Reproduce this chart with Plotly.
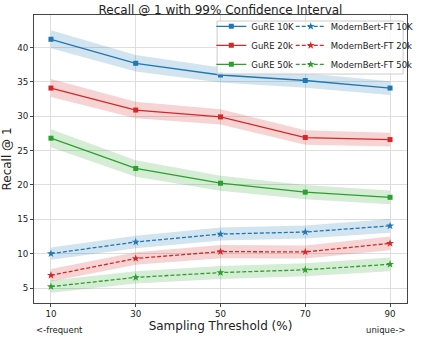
import plotly.graph_objects as go

thresholds = [10, 30, 50, 70, 90]
series_names = ["GuRE 10K", "GuRE 20k", "GuRE 50k",
                "ModernBert-FT 10K", "ModernBert-FT 20k", "ModernBert-FT 50k"]
gure_10k = [41.2, 37.7, 36.0, 35.2, 34.1]
gure_20k = [34.1, 30.9, 29.9, 26.9, 26.6]
gure_50k = [26.8, 22.4, 20.25, 18.95, 18.2]
mb_10k = [10.0, 11.7, 12.85, 13.15, 14.05]
mb_20k = [6.85, 9.3, 10.3, 10.25, 11.5]
mb_50k = [5.2, 6.55, 7.25, 7.65, 8.45]
gure_ci = [1.3, 1.2, 1.1, 1.05, 1.0]
mb_ci = [0.9, 0.9, 0.95, 0.95, 1.0]

colors = ["#1f77b4", "#d62728", "#2ca02c"]
bands = ["rgba(31,119,180,0.2)", "rgba(214,39,40,0.2)", "rgba(44,160,44,0.2)"]

all_values = [gure_10k, gure_20k, gure_50k, mb_10k, mb_20k, mb_50k]
FONT = "DejaVu Sans"
TXT = "#222"

fig = go.Figure()
for i, (name, vals) in enumerate(zip(series_names, all_values)):
    is_gure = i < 3
    c = colors[i % 3]
    ci = gure_ci if is_gure else mb_ci
    upper = [v + e for v, e in zip(vals, ci)]
    lower = [v - e for v, e in zip(vals, ci)]
    fig.add_trace(go.Scatter(x=thresholds + thresholds[::-1], y=upper + lower[::-1],
                             fill="toself", fillcolor=bands[i % 3], line=dict(width=0),
                             mode="lines", showlegend=False, hoverinfo="skip"))
    fig.add_trace(go.Scatter(
        x=thresholds, y=vals, name=name, mode="lines+markers",
        line=dict(color=c, width=1.3, dash="solid" if is_gure else "4px,2px"),
        marker=dict(symbol="square" if is_gure else "star", size=5 if is_gure else 6, color=c),
        legend="legend" if is_gure else "legend2"))

# legend frame
fig.add_shape(type="rect", xref="paper", yref="paper", x0=(223 - 34) / 385, x1=(415 - 34) / 385,
              y0=0.795, y1=(303 - 21) / 288,
              fillcolor="rgba(255,255,255,0.8)", line=dict(color="#cccccc", width=1), layer="above")

fig.add_annotation(text="&lt;-frequent", xref="paper", yref="paper", x=0, y=-0.095,
                   xanchor="left", yanchor="middle", showarrow=False,
                   font=dict(family=FONT, size=8.5, color=TXT))
fig.add_annotation(text="unique-&gt;", xref="paper", yref="paper", x=1, y=-0.095,
                   xanchor="right", yanchor="middle", showarrow=False,
                   font=dict(family=FONT, size=8.5, color=TXT))

axis_common = dict(showgrid=True, gridcolor="#dedede", gridwidth=1, showline=True,
                   linecolor="#444", linewidth=1, mirror=True, ticks="outside", ticklen=3,
                   tickcolor="#444", zeroline=False,
                   tickfont=dict(family=FONT, size=8.7, color=TXT))

legend_common = dict(y=1.011, xanchor="left", yanchor="top", bgcolor="rgba(0,0,0,0)",
                     borderwidth=0, tracegroupgap=0, itemwidth=30,
                     font=dict(family=FONT, size=8.5, color=TXT))

fig.update_layout(
    width=423, height=340,
    margin=dict(l=34, r=4, t=15, b=37),
    plot_bgcolor="white", paper_bgcolor="white",
    title=dict(text="Recall @ 1 with 99% Confidence Interval", x=0.5, xref="paper",
               xanchor="center", y=1 - 10 / 340, yanchor="middle",
               font=dict(family=FONT, size=12, color=TXT)),
    xaxis=dict(range=[6, 94], tickvals=thresholds,
               title=dict(text="Sampling Threshold (%)", standoff=2,
                          font=dict(family=FONT, size=12, color=TXT)), **axis_common),
    yaxis=dict(range=[2.82, 44.73], tickvals=[5, 10, 15, 20, 25, 30, 35, 40],
               title=dict(text="Recall @ 1", standoff=4,
                          font=dict(family=FONT, size=12, color=TXT)), **axis_common),
    legend=dict(x=(217 - 34) / 385, **legend_common),
    legend2=dict(x=(299 - 34) / 385, **legend_common),
    showlegend=True,
)

fig.write_html("out.html", config={"displayModeBar": False},
               post_script="document.body.style.margin='0';")
